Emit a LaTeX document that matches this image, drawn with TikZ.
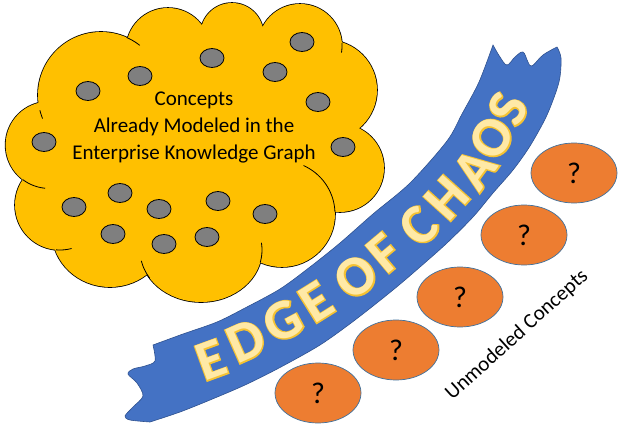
\documentclass[tikz,border=0pt]{standalone}
\usepackage{fontspec}
\setmainfont{Carlito}
\newfontfamily\ribbonface{Carlito}
\newfontfamily\ribbonedge{Carlito}[BoldFeatures={FakeBold=4}]
\usetikzlibrary{shapes.geometric}
\definecolor{cloudgold}{HTML}{FFC000}
\definecolor{dotgray}{HTML}{7F7F7F}
\definecolor{ribbonblue}{HTML}{4472C4}
\definecolor{ribbonline}{HTML}{2F528F}
\definecolor{letterfill}{HTML}{FFE9A6}
\definecolor{letteredge}{HTML}{F5C232}
\definecolor{qorange}{HTML}{ED7D31}
\definecolor{qline}{HTML}{41719C}
\tikzset{
  lobestroke/.style={draw=black, line width=1.6pt},
  cloudline/.style={draw=black, line width=0.8pt},
  dotnode/.style={ellipse, draw=black, line width=0.8pt, fill=dotgray, minimum width=24pt, minimum height=19pt, inner sep=0pt},
  qnode/.style={ellipse, draw=qline, line width=0.7pt, fill=qorange, minimum width=86pt, minimum height=60pt, inner sep=0pt, font=\fontsize{30}{30}\selectfont},
  letteredgestyle/.style={text=letteredge, inner sep=0pt, font=\ribbonedge\bfseries\fontsize{56}{56}\selectfont},
  letterfacestyle/.style={text=letterfill, inner sep=0pt, font=\ribbonface\bfseries\fontsize{56}{56}\selectfont},
  labeltext/.style={inner sep=0pt, font=\fontsize{21}{27}\selectfont, align=center}
}
\begin{document}
\begin{tikzpicture}[x=1pt, y=-1pt]
\useasboundingbox (0,0) rectangle (622,434);
% ---- cloud: lobes stroked thick, then filled (union outline)
\def\lobes{
  (101,95) circle[radius=63]
  (168,50) circle[radius=42]
  (232,34.5) circle[radius=31.5]
  (300,46) circle[radius=42]
  (327,90) circle[radius=50]
  (340,168) circle[radius=44]
  (282,214) circle[radius=53]
  (201,250) ellipse[x radius=61, y radius=52]
  (110,232) ellipse[x radius=58, y radius=55]
  (60,205) circle[radius=45]
  (49,145) circle[radius=43.4]
}
\path[lobestroke] \lobes;
\path[fill=cloudgold] \lobes;
\path[fill=cloudgold] (44,112) -- (128,42) -- (202,29) -- (262,31) -- (339,46) -- (356,128) -- (330,210) -- (257,258) -- (150,274) -- (60,246) -- (27,180) -- cycle;
% crease arcs (hidden parts of lobes)
\draw[cloudline] plot[domain=-66:-52, samples=10] ({101+63*cos(\x)}, {95+63*sin(\x)});
\draw[cloudline] plot[domain=158:166, samples=6] ({101+63*cos(\x)}, {95+63*sin(\x)});
\draw[cloudline] plot[domain=-4:9, samples=8] ({300+42*cos(\x)}, {46+42*sin(\x)});
\draw[cloudline] plot[domain=-66:-2, samples=25] ({282+53*cos(\x)}, {214+53*sin(\x)});
\draw[cloudline] plot[domain=-8:14, samples=10] ({201+61*cos(\x)}, {250+52*sin(\x)});
\draw[cloudline] plot[domain=147:168, samples=10] ({201+61*cos(\x)}, {250+52*sin(\x)});
\draw[cloudline] plot[domain=75:95, samples=8] ({60+45*cos(\x)}, {205+45*sin(\x)});
\draw[cloudline] plot[domain=95:127, samples=12] ({49+43.4*cos(\x)}, {145+43.4*sin(\x)});
% dots
\foreach \x/\y [count=\i] in {302/42, 212/58, 275/72, 140/76, 88/91, 318/102, 44/142, 343/147,
  120/193, 74/207, 159/209, 218/201, 265/214, 113/234, 164/244, 207/237}
  \node[dotnode] (dot\i) at (\x,\y) {};
% cloud text
\node[labeltext] (cloudtext) at (194,127) {Concepts\\Already Modeled in the\\Enterprise Knowledge Graph};
% ---- ribbon
\path[fill=ribbonblue, draw=ribbonline, line width=0.6pt]
 plot[smooth] coordinates {(153,345) (183,334) (217,322) (245,308) (280,289) (310,267) (340,243) (373,214) (410,183) (447,141) (462,114) (479,82) (493,45)}
 -- plot[smooth, tension=0.6] coordinates {(493,45) (500,57) (507,65) (515,57) (523,52) (528,62) (532,66) (543,55) (557,47)}
 -- plot[smooth] coordinates {(557,47) (561,58) (559,82) (547,115) (530,146) (513,170) (493,193) (473,217) (447,243) (420,267) (393,290) (355,320) (320,345) (279,368) (245,385) (210,400) (180,412) (150,422)}
 -- plot[smooth] coordinates {(150,422) (130,420) (125,416) (133,407) (143,396) (137,383) (128,374) (133,369) (145,366) (155,361) (153,345)}
 -- cycle;
% ribbon letters
\foreach \ch/\x/\y/\r [count=\i] in {E/211/360/20, D/246/341/24, G/283/321/28, E/316/302/32,
  O/356/277/37, F/385/253/40, C/419/226/44, H/447/198/48, A/475/169/54, O/492/138/59, S/508/109/64}
{
  \node[letteredgestyle, rotate=\r] (ledge\i) at (\x,\y) {\ch};
  \node[letterfacestyle, rotate=\r] (lface\i) at (\x,\y) {\ch};
}
% ---- unmodeled concepts
\foreach \x/\y [count=\i] in {318/393, 396/350, 460/297, 524/235, 574/173}
  \node[qnode] (q\i) at (\x,\y) {?};
\node[labeltext, rotate=42] (unmodeled) at (517,335) {Unmodeled Concepts};
\end{tikzpicture}
\end{document}
